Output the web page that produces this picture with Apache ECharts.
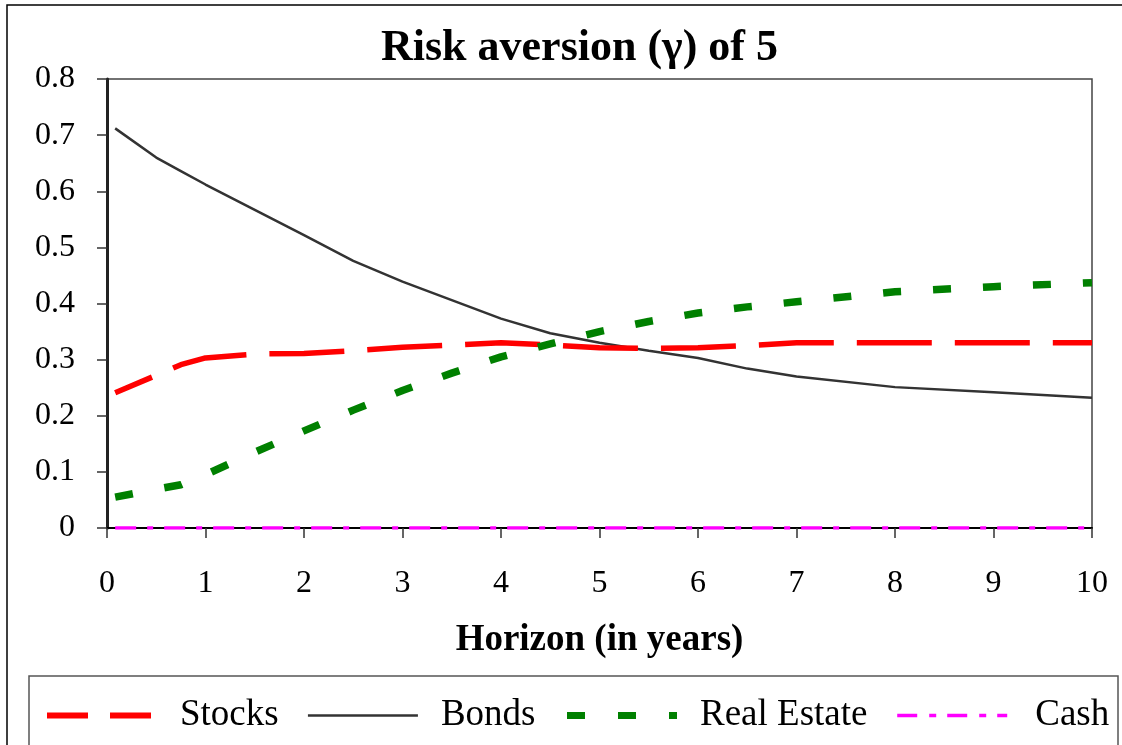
<!DOCTYPE html>
<html>
<head>
<meta charset="utf-8">
<script src="https://cdn.jsdelivr.net/npm/echarts@6/dist/echarts.min.js"></script>
<style>
html,body{margin:0;padding:0;background:#fff;}
#chart{width:1122px;height:745px;}
</style>
</head>
<body>
<div id="chart"></div>
<script>
const horizons   = [0.083, 0.5, 0.75, 1, 1.5, 2, 2.5, 3, 3.5, 4, 4.5, 5, 5.5, 6, 6.5, 7, 8, 9, 10];
const stocks     = [0.241, 0.272, 0.291, 0.303, 0.310, 0.311, 0.316, 0.322, 0.326, 0.330, 0.326, 0.321, 0.320, 0.321, 0.325, 0.330, 0.330, 0.330, 0.330];
const bonds      = [0.712, 0.660, 0.636, 0.612, 0.567, 0.522, 0.476, 0.439, 0.406, 0.373, 0.347, 0.330, 0.316, 0.303, 0.284, 0.270, 0.251, 0.242, 0.232];
const realEstate = [0.055, 0.069, 0.077, 0.095, 0.135, 0.173, 0.210, 0.245, 0.276, 0.305, 0.328, 0.350, 0.368, 0.383, 0.394, 0.403, 0.421, 0.430, 0.437];
const cash       = [0, 0, 0, 0, 0, 0, 0, 0, 0, 0, 0, 0, 0, 0, 0, 0, 0, 0, 0];
const seriesNames = ['Stocks', 'Bonds', 'Real Estate', 'Cash'];
const titleText = 'Risk aversion (\u03B3) of 5';
const xAxisTitle = 'Horizon (in years)';

const pair = arr => horizons.map((h, i) => [h, arr[i]]);
const FONT = '"Liberation Serif", "DejaVu Serif", serif';

const chart = echarts.init(document.getElementById('chart'), null, {renderer: 'canvas'});
chart.setOption({
  animation: false,
  backgroundColor: '#fff',
  textStyle: {fontFamily: FONT},
  title: {
    text: titleText,
    left: 376, top: 22,
    textStyle: {fontFamily: FONT, fontSize: 44, fontWeight: 'bold', color: '#000'}
  },
  graphic: [
    {type: 'rect', shape: {x: 7, y: 5, width: 1200, height: 800}, style: {fill: 'none', stroke: '#000', lineWidth: 1.5}, silent: true, z: -10},
    {type: 'rect', shape: {x: 29, y: 676, width: 1089, height: 120}, style: {fill: 'none', stroke: '#555', lineWidth: 1.5}, silent: true, z: -10}
  ],
  grid: {left: 107, top: 79, right: 30, bottom: 217, show: true, borderColor: '#444', borderWidth: 1.5, backgroundColor: 'transparent'},
  legend: {
    left: 39, top: 692,
    itemWidth: 110, itemHeight: 20, itemGap: 28,
    itemStyle: {opacity: 0},
    textStyle: {fontFamily: FONT, fontSize: 37, color: '#000', padding: [0, 0, 0, 18]},
    data: [
      {name: 'Stocks', lineStyle: {type: [41, 22], width: 6, dashOffset: 0}},
      {name: 'Bonds', lineStyle: {width: 2.5}},
      {name: 'Real Estate', lineStyle: {type: [18, 33], width: 7, dashOffset: 0}, textStyle: {padding: [0, 0, 0, 18]}},
      {name: 'Cash', lineStyle: {type: [20, 12, 7, 11], width: 3.5, dashOffset: 0}, textStyle: {padding: [0, 0, 0, 23]}}
    ]
  },
  xAxis: {
    type: 'value', min: 0, max: 10, interval: 1,
    name: xAxisTitle, nameLocation: 'middle', nameGap: 94,
    nameTextStyle: {fontFamily: FONT, fontSize: 37, fontWeight: 'bold', color: '#000'},
    axisLine: {show: true, lineStyle: {color: '#000', width: 2}},
    axisTick: {show: true, inside: false, length: 10, lineStyle: {color: '#333', width: 1.5}},
    axisLabel: {margin: 40, fontFamily: FONT, fontSize: 32, color: '#000'},
    splitLine: {show: false}
  },
  yAxis: {
    type: 'value', min: 0, max: 0.8, interval: 0.1,
    axisLine: {show: true, lineStyle: {color: '#222', width: 3}},
    axisTick: {show: true, inside: false, length: 10, lineStyle: {color: '#333', width: 1.5}},
    axisLabel: {margin: 32, fontFamily: FONT, fontSize: 32, color: '#000'},
    splitLine: {show: false}
  },
  series: [
    {name: 'Stocks', type: 'line', data: pair(stocks), symbol: 'none', showSymbol: false,
     lineStyle: {color: '#FF0000', width: 5.5, type: [75, 23], dashOffset: 35}, itemStyle: {color: '#FF0000'}, z: 3},
    {name: 'Bonds', type: 'line', data: pair(bonds), symbol: 'none', showSymbol: false,
     lineStyle: {color: '#333333', width: 2.5}, itemStyle: {color: '#333333'}, z: 2},
    {name: 'Real Estate', type: 'line', data: pair(realEstate), symbol: 'none', showSymbol: false,
     lineStyle: {color: '#008000', width: 7.5, type: [18, 32]}, itemStyle: {color: '#008000'}, z: 4},
    {name: 'Cash', type: 'line', data: pair(cash), symbol: 'none', showSymbol: false,
     lineStyle: {color: '#FF00FF', width: 3.5, type: [21, 11, 6, 11]}, itemStyle: {color: '#FF00FF'}, z: 5}
  ]
});
</script>
</body>
</html>
